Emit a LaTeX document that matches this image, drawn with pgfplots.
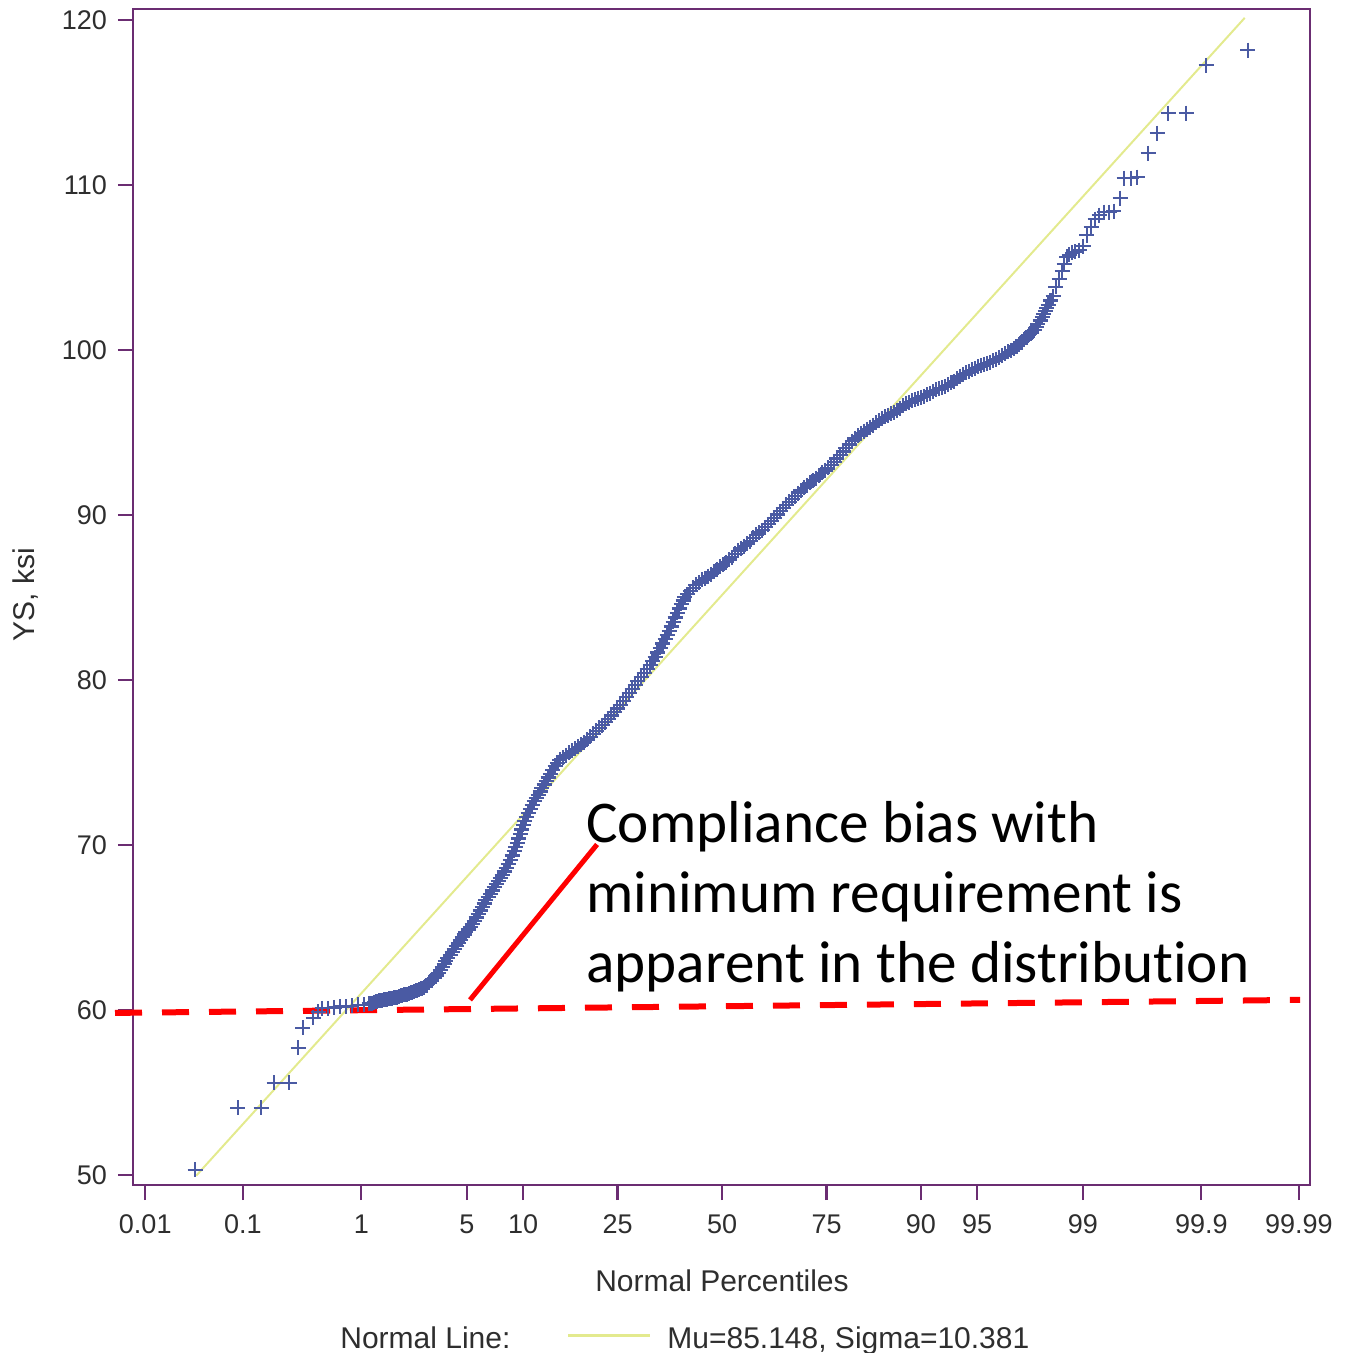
\documentclass[border=0pt]{standalone}
\usepackage{fontspec}
\setmainfont{Liberation Sans}
\newfontfamily\calibri[Ligatures={NoCommon,NoContextual}]{Carlito}
\usepackage{pgfplots}
\pgfplotsset{compat=1.18}
\definecolor{frame}{HTML}{6B2D72}
\definecolor{ptblue}{HTML}{4A5AA3}
\definecolor{nline}{HTML}{E3EA8E}
\definecolor{txt}{HTML}{2E2E2E}
\begin{document}
\begin{tikzpicture}
\begin{axis}[
  at={(0,0)}, anchor=south west,
  scale only axis, width=588.5pt, height=588pt,
  xmin=-3.798, xmax=3.791, ymin=49.39, ymax=120.67,
  axis line style={frame, line width=1.1pt},
  tick align=outside, tick pos=left,
  tick style={frame, line width=1.1pt},
  major tick length=7.5pt,
  xtick={-3.719,-3.090,-2.326,-1.645,-1.282,-0.674,0,0.674,1.282,1.645,2.326,3.090,3.719},
  xticklabels={0.01,0.1,1,5,10,25,50,75,90,95,99,99.9,99.99},
  ytick={50,60,70,80,90,100,110,120},
  tick label style={font=\fontsize{13.5}{16}\selectfont, text=txt},
  /pgf/number format/assume math mode=true,
  x tick label style={yshift=-4pt},
  y tick label style={xshift=-2pt},
  clip=false,
]
\addplot[only marks, mark=+, mark size=3.75pt, color=ptblue, mark options={line width=1.2pt}] table {
-3.398 50.30
-3.121 54.06
-2.972 54.06
-2.888 55.58
-2.792 55.58
-2.734 57.70
-2.702 58.91
-2.637 59.52
-2.605 59.88
-2.579 60.10
-2.540 60.10
-2.502 60.15
-2.463 60.20
-2.424 60.20
-2.386 60.25
-2.347 60.30
-2.308 60.30
-2.276 60.38
-2.260 60.42
-2.244 60.48
-2.228 60.50
-2.211 60.55
-2.195 60.58
-2.179 60.61
-2.163 60.64
-2.147 60.67
-2.131 60.70
-2.115 60.73
-2.099 60.76
-2.083 60.79
-2.066 60.85
-2.050 60.91
-2.034 60.94
-2.018 60.97
-2.002 61.03
-1.986 61.09
-1.970 61.15
-1.954 61.21
-1.938 61.30
-1.921 61.39
-1.905 61.50
-1.889 61.64
-1.873 61.78
-1.857 61.94
-1.844 62.09
-1.831 62.24
-1.818 62.42
-1.805 62.61
-1.792 62.79
-1.780 62.97
-1.767 63.15
-1.754 63.33
-1.741 63.52
-1.728 63.70
-1.715 63.88
-1.702 64.06
-1.689 64.24
-1.676 64.42
-1.663 64.58
-1.651 64.73
-1.638 64.88
-1.625 65.03
-1.612 65.20
-1.599 65.39
-1.586 65.60
-1.573 65.82
-1.560 66.03
-1.547 66.24
-1.534 66.46
-1.522 66.67
-1.509 66.85
-1.496 67.03
-1.483 67.24
-1.470 67.45
-1.457 67.64
-1.444 67.82
-1.431 68.00
-1.418 68.18
-1.405 68.40
-1.393 68.61
-1.380 68.85
-1.367 69.09
-1.354 69.36
-1.341 69.64
-1.331 69.88
-1.322 70.12
-1.312 70.40
-1.302 70.67
-1.292 70.94
-1.283 71.21
-1.273 71.45
-1.264 71.70
-1.251 71.94
-1.238 72.18
-1.225 72.42
-1.212 72.67
-1.199 72.85
-1.186 73.03
-1.173 73.24
-1.161 73.45
-1.148 73.67
-1.135 73.88
-1.122 74.09
-1.109 74.30
-1.093 74.55
-1.077 74.79
-1.061 74.97
-1.045 75.15
-1.025 75.30
-1.006 75.45
-0.986 75.58
-0.967 75.70
-0.947 75.82
-0.928 75.94
-0.909 76.09
-0.890 76.24
-0.870 76.39
-0.851 76.55
-0.831 76.73
-0.812 76.91
-0.793 77.09
-0.774 77.27
-0.754 77.45
-0.735 77.64
-0.715 77.85
-0.696 78.06
-0.677 78.27
-0.658 78.48
-0.638 78.73
-0.619 78.97
-0.599 79.21
-0.580 79.45
-0.561 79.70
-0.542 79.94
-0.522 80.18
-0.503 80.42
-0.483 80.67
-0.464 80.91
-0.448 81.15
-0.432 81.39
-0.416 81.67
-0.400 81.94
-0.383 82.21
-0.367 82.48
-0.354 82.73
-0.342 82.97
-0.329 83.24
-0.316 83.52
-0.303 83.79
-0.290 84.06
-0.277 84.33
-0.264 84.61
-0.251 84.82
-0.239 85.03
-0.222 85.21
-0.206 85.39
-0.187 85.58
-0.168 85.76
-0.148 85.91
-0.129 86.06
-0.109 86.18
-0.090 86.30
-0.071 86.42
-0.052 86.55
-0.032 86.70
-0.013 86.85
0.006 87.00
0.026 87.15
0.045 87.30
0.064 87.45
0.084 87.64
0.103 87.82
0.122 87.97
0.142 88.12
0.161 88.27
0.181 88.42
0.200 88.61
0.219 88.79
0.238 88.94
0.258 89.09
0.277 89.27
0.297 89.45
0.316 89.64
0.335 89.82
0.355 90.03
0.374 90.24
0.393 90.42
0.413 90.61
0.432 90.79
0.451 90.97
0.471 91.15
0.490 91.33
0.509 91.48
0.529 91.64
0.548 91.79
0.567 91.94
0.587 92.09
0.606 92.24
0.625 92.39
0.645 92.55
0.664 92.70
0.683 92.85
0.703 93.03
0.722 93.21
0.741 93.42
0.761 93.64
0.780 93.85
0.799 94.06
0.819 94.27
0.838 94.48
0.857 94.64
0.877 94.79
0.896 94.94
0.916 95.09
0.935 95.21
0.954 95.33
0.974 95.45
0.993 95.58
1.012 95.70
1.032 95.82
1.051 95.94
1.070 96.06
1.090 96.15
1.109 96.24
1.128 96.36
1.148 96.48
1.167 96.61
1.186 96.73
1.206 96.82
1.225 96.91
1.245 97.00
1.264 97.09
1.283 97.15
1.302 97.21
1.322 97.30
1.341 97.39
1.360 97.48
1.380 97.58
1.399 97.64
1.418 97.70
1.438 97.79
1.457 97.88
1.477 98.00
1.496 98.12
1.515 98.27
1.534 98.42
1.554 98.52
1.573 98.61
1.593 98.70
1.612 98.79
1.632 98.88
1.651 98.97
1.670 99.06
1.689 99.15
1.709 99.21
1.728 99.27
1.748 99.36
1.767 99.45
1.786 99.55
1.805 99.64
1.825 99.76
1.844 99.88
1.864 100.00
1.883 100.12
1.899 100.24
1.915 100.36
1.931 100.48
1.947 100.61
1.963 100.76
1.979 100.91
1.996 101.06
2.012 101.21
2.025 101.39
2.037 101.58
2.050 101.79
2.063 102.00
2.073 102.18
2.083 102.36
2.093 102.55
2.102 102.73
2.118 103.00
2.134 103.27
2.153 103.82
2.173 104.30
2.192 104.79
2.205 105.21
2.224 105.64
2.237 105.76
2.257 105.88
2.276 105.94
2.302 106.06
2.328 106.30
2.353 106.97
2.379 107.45
2.405 107.94
2.431 108.18
2.463 108.36
2.495 108.36
2.527 108.42
2.566 109.21
2.592 110.42
2.637 110.42
2.676 110.48
2.747 111.94
2.805 113.15
2.876 114.36
2.992 114.36
3.121 117.27
3.391 118.18
};
\addplot[nline, line width=1pt] coordinates {(-3.39,49.96) (3.37,120.13)};
\draw[red, line width=3pt, dash pattern=on 13.5pt off 10pt] (axis cs:-3.914,59.82) -- (axis cs:3.727,60.61);
\draw[red, line width=2.5pt] (axis cs:-1.625,60.61) -- (axis cs:-0.806,70.03);
\node[anchor=base west, inner sep=0pt, font=\calibri\fontsize{29.6}{34}\selectfont] at (axis cs:-0.877,70.12) {Compliance bias with};
\node[anchor=base west, inner sep=0pt, font=\calibri\fontsize{29.6}{34}\selectfont] at (axis cs:-0.877,65.88) {minimum requirement is};
\node[anchor=base west, inner sep=0pt, font=\calibri\fontsize{29.6}{34}\selectfont] at (axis cs:-0.877,61.64) {apparent in the distribution};
\end{axis}
\node[anchor=base, text=txt, font=\fontsize{15}{18}\selectfont] at (294.5pt,-53.5pt) {Normal Percentiles};
\node[anchor=base, rotate=90, text=txt, font=\fontsize{15}{18}\selectfont] at (-49pt,295pt) {YS, ksi};
\node[anchor=base west, inner sep=0pt, text=txt, font=\fontsize{15}{18}\selectfont] at (103.5pt,-81.5pt) {Normal Line:};
\draw[nline, line width=1.5pt] (217.5pt,-75pt) -- (258.5pt,-75pt);
\node[anchor=base west, inner sep=0pt, text=txt, font=\fontsize{15}{18}\selectfont] at (267pt,-81.5pt) {Mu=85.148, Sigma=10.381};
\pgfresetboundingbox
\useasboundingbox (-66.5pt,-84pt) rectangle (606.5pt,592.5pt);
\end{tikzpicture}
\end{document}
